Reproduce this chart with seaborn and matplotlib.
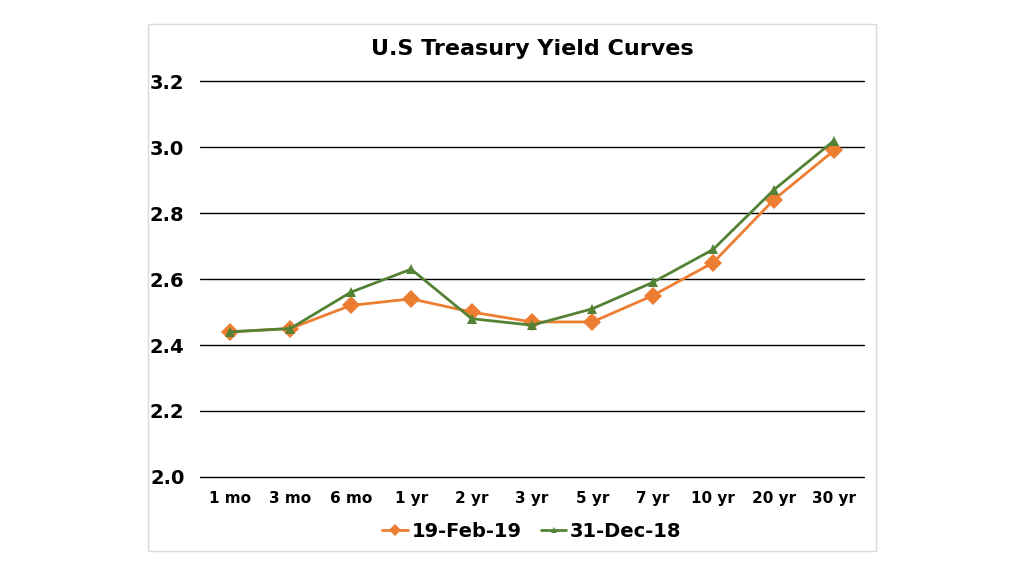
import pandas as pd
import matplotlib
matplotlib.use("Agg")
import matplotlib.pyplot as plt
import seaborn as sns
from matplotlib.patches import Rectangle

# Daten
maturities = ["1 mo", "3 mo", "6 mo", "1 yr", "2 yr", "3 yr", "5 yr", "7 yr", "10 yr", "20 yr", "30 yr"]
feb_19 = [2.44, 2.45, 2.52, 2.54, 2.50, 2.47, 2.47, 2.55, 2.65, 2.84, 2.99]
dec_18 = [2.44, 2.45, 2.56, 2.63, 2.48, 2.46, 2.51, 2.59, 2.69, 2.87, 3.02]
y_ticks = [2.0, 2.2, 2.4, 2.6, 2.8, 3.0, 3.2]

df = pd.DataFrame({
    "maturity": maturities * 2,
    "yield": feb_19 + dec_18,
    "date": ["19-Feb-19"] * len(maturities) + ["31-Dec-18"] * len(maturities),
})

sns.set_theme(style="white")
plt.rcParams["font.family"] = ["DejaVu Sans"]
plt.rcParams["text.color"] = "black"
plt.rcParams["xtick.color"] = "black"
plt.rcParams["ytick.color"] = "black"

fig = plt.figure(figsize=(10.24, 5.76), dpi=100)
fig.patches.append(Rectangle((0.1445, 0.0434), 0.711, 0.915, transform=fig.transFigure,
                             fill=False, edgecolor="#d9d9d9", linewidth=1))
ax = fig.add_axes([0.195, 0.172, 0.649, 0.687])

palette = {"19-Feb-19": "#ED7D31", "31-Dec-18": "#548235"}
markers = {"19-Feb-19": "D", "31-Dec-18": "^"}
sizes = {"19-Feb-19": 9, "31-Dec-18": 7}
for name, sub in df.groupby("date", sort=False):
    sns.lineplot(data=sub, x="maturity", y="yield", ax=ax, color=palette[name],
                 marker=markers[name], markersize=sizes[name], markeredgewidth=0,
                 linewidth=2, label=name, sort=False, clip_on=False, zorder=3)

ax.set_ylim(2.0, 3.2)
ax.set_yticks(y_ticks)
ax.set_yticklabels([f"{v:.1f}" for v in y_ticks], fontsize=14, fontweight="bold")
ax.set_xlim(-0.5, len(maturities) - 0.5)
ax.tick_params(axis="x", labelsize=11, length=0, pad=10)
ax.tick_params(axis="y", length=0, pad=11)
for lbl in ax.get_xticklabels():
    lbl.set_fontweight("bold")
# Gitterlinien selbst zeichnen, damit die unterste nicht abgeschnitten wird
for v in y_ticks:
    ax.axhline(v, color="black", linewidth=1, clip_on=False, zorder=1)
for s in ax.spines.values():
    s.set_visible(False)
ax.set_xlabel("")
ax.set_ylabel("")

ax.set_title("U.S Treasury Yield Curves", fontsize=16, fontweight="bold", pad=19)

leg = ax.legend(loc="upper center", bbox_to_anchor=(0.5, -0.07), ncol=2, frameon=False,
                prop={"weight": "bold", "size": 14}, handlelength=1.3, handletextpad=0.2,
                columnspacing=1.0, markerscale=0.7)

fig.savefig("out.png", dpi=100, facecolor="white")
